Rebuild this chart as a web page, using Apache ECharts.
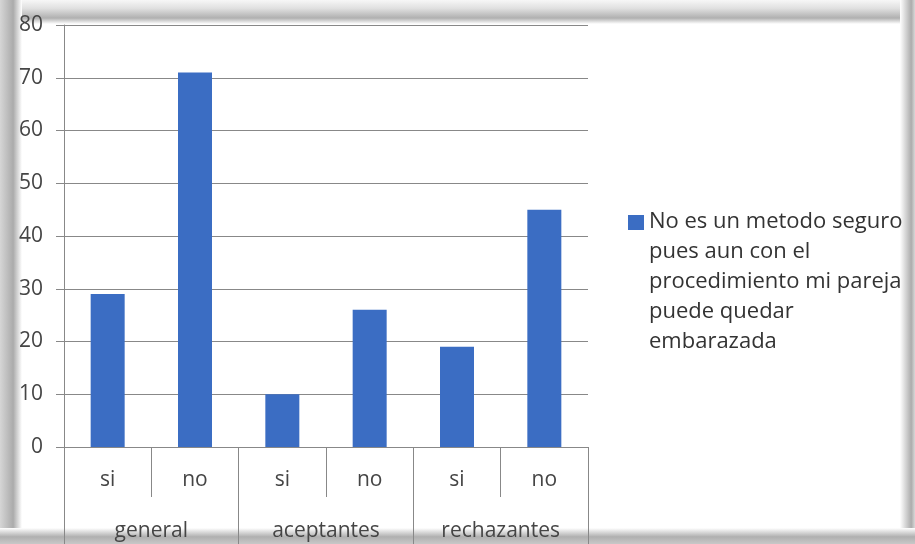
<!DOCTYPE html>
<html>
<head>
<meta charset="utf-8">
<script src="https://cdn.jsdelivr.net/npm/echarts@6/dist/echarts.min.js"></script>
<style>
  html, body { margin: 0; padding: 0; background: #ffffff; }
  #chart { width: 915px; height: 544px; }
</style>
</head>
<body>
<div id="chart"></div>
<script>
// Inner category level (answer) and outer level (group)
const answers = ['si', 'no', 'si', 'no', 'si', 'no'];
const groups = ['general', 'aceptantes', 'rechazantes'];
// Percentage per answer, in the same order as `answers`
const values = [29, 71, 10, 26, 19, 45];
const yMin = 0;
const yMax = 80;
const yStep = 10;
const seriesName = 'No es un metodo seguro\npues aun con el\nprocedimiento mi pareja\npuede quedar\nembarazada';

const FONT = '"Open Sans", "Liberation Sans", sans-serif';
const BAR = '#3b6dc3';
const AXIS = '#888888';
const LABEL = '#454545';

const chart = echarts.init(document.getElementById('chart'), null, { renderer: 'canvas' });

const shadeV = (stops) => ({ type: 'linear', x: 0, y: 0, x2: 0, y2: 1, colorStops: stops });
const shadeH = (stops) => ({ type: 'linear', x: 0, y: 0, x2: 1, y2: 0, colorStops: stops });

chart.setOption({
  backgroundColor: '#ffffff',
  animation: false,
  graphic: [
    // soft drop shadow framing the card
    { type: 'rect', z: -10, shape: { x: 0, y: 0, width: 915, height: 24 },
      style: { fill: shadeV([{ offset: 0, color: '#f7f7f7' }, { offset: 0.35, color: '#e0e0e0' }, { offset: 0.75, color: '#b0b0b0' }, { offset: 1, color: '#ffffff' }]) } },
    { type: 'rect', z: -10, shape: { x: 0, y: 0, width: 22, height: 544 },
      style: { fill: shadeH([{ offset: 0, color: '#d6d6d6' }, { offset: 0.6, color: '#ababab' }, { offset: 1, color: '#ffffff' }]) } },
    { type: 'rect', z: -10, shape: { x: 900, y: 0, width: 15, height: 544 },
      style: { fill: shadeH([{ offset: 0, color: '#ffffff' }, { offset: 0.75, color: '#acacac' }, { offset: 1, color: '#d8d8d8' }]) } },
    { type: 'rect', z: -10, shape: { x: 0, y: 528, width: 915, height: 16 },
      style: { fill: shadeV([{ offset: 0, color: '#ffffff' }, { offset: 0.55, color: '#b0b0b0' }, { offset: 1, color: '#c8c8c8' }]) } },
    // legend key and wrapped series name
    { type: 'rect', z: 5, shape: { x: 628, y: 215, width: 16, height: 15 },
      style: { fill: BAR } },
    { type: 'text', z: 5, x: 649, y: 207,
      style: { text: seriesName, fontFamily: FONT, fontSize: 22, lineHeight: 30, fill: '#333333', verticalAlign: 'top', align: 'left' } }
  ],
  grid: { left: 64, right: 327, top: 25, bottom: 97, containLabel: false },
  legend: { show: false },
  xAxis: [
    {
      type: 'category',
      data: answers,
      position: 'bottom',
      axisLine: { show: true, lineStyle: { color: AXIS, width: 1 } },
      axisTick: { show: true, length: 50, alignWithLabel: false, lineStyle: { color: AXIS } },
      axisLabel: { margin: 23, fontFamily: FONT, fontSize: 21, color: LABEL },
      splitLine: { show: false }
    },
    {
      type: 'category',
      data: groups,
      position: 'bottom',
      axisLine: { show: false },
      axisTick: { show: true, length: 110, alignWithLabel: false, lineStyle: { color: AXIS } },
      axisLabel: { margin: 74, fontFamily: FONT, fontSize: 21, color: LABEL },
      splitLine: { show: false }
    }
  ],
  yAxis: {
    type: 'value',
    min: yMin,
    max: yMax,
    interval: yStep,
    axisLine: { show: true, lineStyle: { color: AXIS, width: 1 } },
    axisTick: { show: true, length: 8, lineStyle: { color: AXIS } },
    axisLabel: { margin: 21, fontFamily: FONT, fontSize: 21, color: LABEL },
    splitLine: { show: true, lineStyle: { color: AXIS, width: 1 } }
  },
  series: [
    {
      name: seriesName,
      type: 'bar',
      xAxisIndex: 0,
      data: values,
      barWidth: 34,
      itemStyle: { color: BAR }
    }
  ]
});
</script>
</body>
</html>
